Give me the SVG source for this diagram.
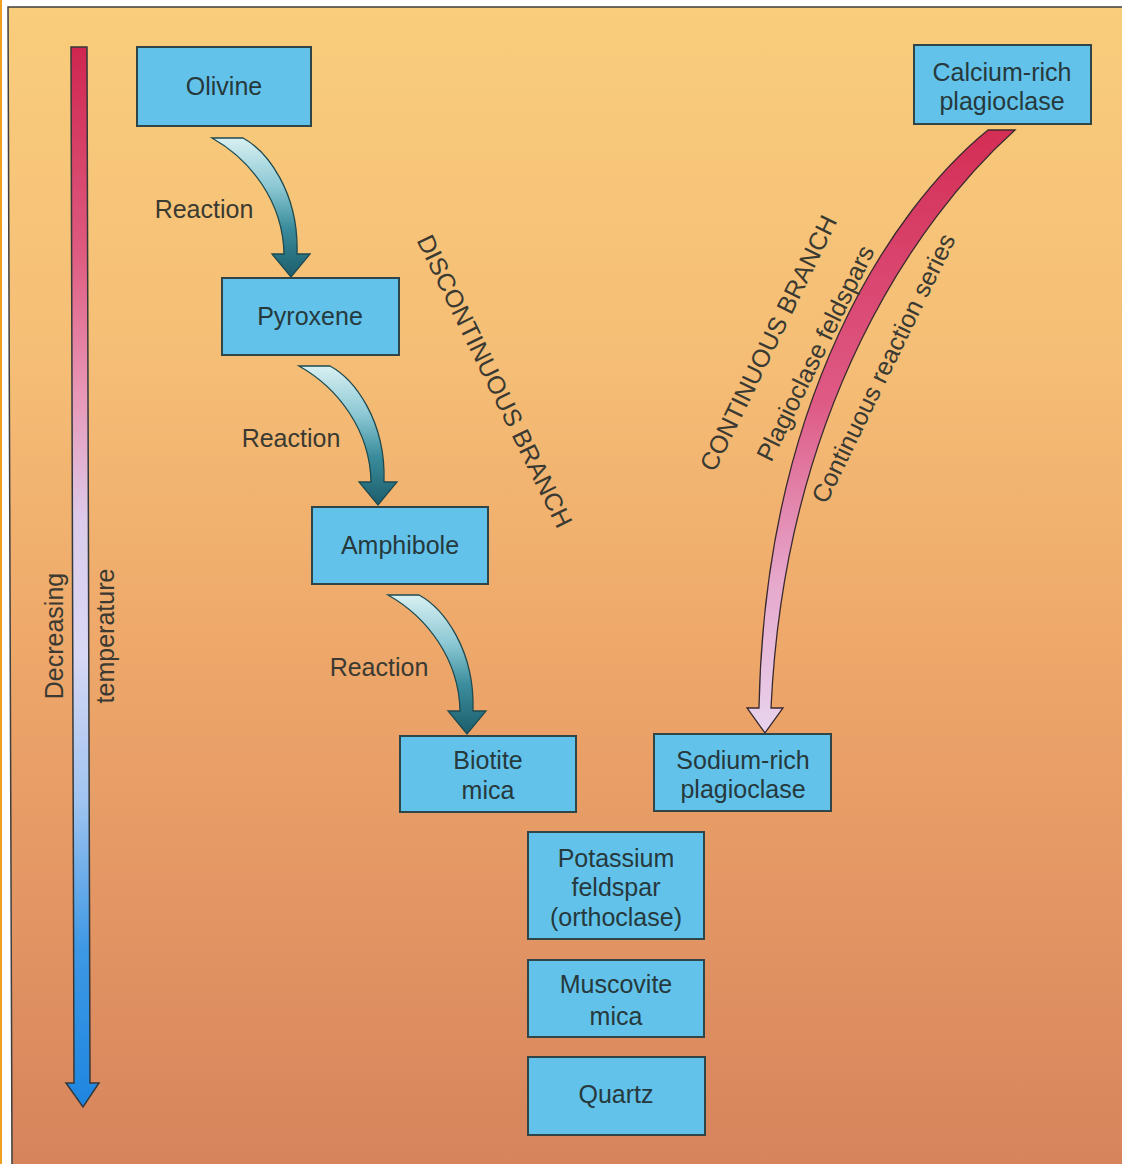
<svg xmlns="http://www.w3.org/2000/svg" width="1122" height="1164" viewBox="0 0 1122 1164">
  <defs>
    <linearGradient id="bg" x1="0" y1="0" x2="0" y2="1">
      <stop offset="0" stop-color="#F9CD7C"/>
      <stop offset="0.3" stop-color="#F5BE76"/>
      <stop offset="0.55" stop-color="#EEA86A"/>
      <stop offset="0.8" stop-color="#E29463"/>
      <stop offset="1" stop-color="#D6845C"/>
    </linearGradient>
    <linearGradient id="temp" gradientUnits="userSpaceOnUse" x1="0" y1="47" x2="0" y2="1107">
      <stop offset="0" stop-color="#CF2650"/>
      <stop offset="0.19" stop-color="#DE5A7E"/>
      <stop offset="0.33" stop-color="#E898B8"/>
      <stop offset="0.45" stop-color="#DCCCEC"/>
      <stop offset="0.57" stop-color="#D8D8F4"/>
      <stop offset="0.71" stop-color="#A0C4F0"/>
      <stop offset="0.85" stop-color="#3E98E4"/>
      <stop offset="1" stop-color="#1E86E0"/>
    </linearGradient>
    <linearGradient id="react" x1="0" y1="0" x2="0" y2="1">
      <stop offset="0" stop-color="#D8F0F2"/>
      <stop offset="0.35" stop-color="#8CC8D4"/>
      <stop offset="0.65" stop-color="#3A8C9C"/>
      <stop offset="1" stop-color="#1C5E6C"/>
    </linearGradient>
    <linearGradient id="cont" gradientUnits="userSpaceOnUse" x1="0" y1="130" x2="0" y2="733">
      <stop offset="0" stop-color="#D42E55"/>
      <stop offset="0.45" stop-color="#DE5A85"/>
      <stop offset="0.75" stop-color="#E6A8CC"/>
      <stop offset="1" stop-color="#E8D4EE"/>
    </linearGradient>
    <path id="rarrow" d="M-79,-139 L-48,-139 C-24,-126 8,-85 6,-23 L19,-23 L0,0 L-19,-23 L-7,-23 C-8,-75 -40,-117 -79,-139 Z"/>
    <style>
      .box { fill: #62C2EA; stroke: #2F4548; stroke-width: 2; }
      .lbl { font-family: "Liberation Sans", Arial, sans-serif; font-size: 25px; fill: #26393C; text-anchor: middle; }
      .note { font-family: "Liberation Sans", Arial, sans-serif; font-size: 25px; fill: #3A3A32; text-anchor: middle; }
      .ra { fill: url(#react); stroke: #1E4A50; stroke-width: 1.3; stroke-linejoin: miter; }
    </style>
  </defs>

  <rect x="0" y="0" width="1122" height="1164" fill="#FFFFFF"/>
  <rect x="0" y="0" width="2" height="1164" fill="#F0A020"/>
  <path d="M8,7 L1122,7 L1122,1164 L12,1164 Z" fill="url(#bg)"/>
  <path d="M12,1164 L8,7 L1122,7" fill="none" stroke="#3E3E3E" stroke-width="1.5"/>

  <g id="temperature-axis">
    <path d="M71,47 L87,47 L90,1083 L99,1083 L83,1107 L66,1083 L74,1083 Z" fill="url(#temp)" stroke="#34383A" stroke-width="1.5"/>
    <text class="note" transform="translate(63,636) rotate(-90)">Decreasing</text>
    <text class="note" transform="translate(114,636) rotate(-90)">temperature</text>
  </g>

  <g id="connectors">
    <use href="#rarrow" class="ra" transform="translate(291,277)"/>
    <use href="#rarrow" class="ra" transform="translate(378,505)"/>
    <use href="#rarrow" class="ra" transform="translate(467,734)"/>
    <path d="M988,130 L1015,130 C915,220 785,410 771,708 L783,708 L765,733 L747,708 L759,708 C765,400 890,210 988,130 Z" fill="url(#cont)" stroke="#3A2A30" stroke-width="1.3"/>
    <text class="note" x="204" y="218">Reaction</text>
    <text class="note" x="291" y="447">Reaction</text>
    <text class="note" x="379" y="676">Reaction</text>
  </g>

  <g id="branch-labels">
    <text class="note" transform="translate(495,381) rotate(64)" dy="9">DISCONTINUOUS BRANCH</text>
    <text class="note" transform="translate(768,343) rotate(-64)" dy="9">CONTINUOUS BRANCH</text>
    <text class="note" transform="translate(815,353) rotate(-64)" dy="9">Plagioclase feldspars</text>
    <text class="note" transform="translate(883,368) rotate(-64)" dy="9">Continuous reaction series</text>
  </g>

  <g id="olivine">
    <rect class="box" x="137" y="47" width="174" height="79"/>
    <text class="lbl" x="224" y="95">Olivine</text>
  </g>
  <g id="calcium-rich-plagioclase">
    <rect class="box" x="914" y="45" width="177" height="79"/>
    <text class="lbl" x="1002" y="81">Calcium-rich</text>
    <text class="lbl" x="1002" y="110">plagioclase</text>
  </g>
  <g id="pyroxene">
    <rect class="box" x="222" y="278" width="177" height="77"/>
    <text class="lbl" x="310" y="325">Pyroxene</text>
  </g>
  <g id="amphibole">
    <rect class="box" x="312" y="507" width="176" height="77"/>
    <text class="lbl" x="400" y="554">Amphibole</text>
  </g>
  <g id="biotite-mica">
    <rect class="box" x="400" y="736" width="176" height="76"/>
    <text class="lbl" x="488" y="769">Biotite</text>
    <text class="lbl" x="488" y="799">mica</text>
  </g>
  <g id="sodium-rich-plagioclase">
    <rect class="box" x="654" y="734" width="177" height="77"/>
    <text class="lbl" x="743" y="769">Sodium-rich</text>
    <text class="lbl" x="743" y="798">plagioclase</text>
  </g>
  <g id="potassium-feldspar">
    <rect class="box" x="528" y="832" width="176" height="107"/>
    <text class="lbl" x="616" y="867">Potassium</text>
    <text class="lbl" x="616" y="896">feldspar</text>
    <text class="lbl" x="616" y="926">(orthoclase)</text>
  </g>
  <g id="muscovite-mica">
    <rect class="box" x="528" y="960" width="176" height="77"/>
    <text class="lbl" x="616" y="993">Muscovite</text>
    <text class="lbl" x="616" y="1025">mica</text>
  </g>
  <g id="quartz">
    <rect class="box" x="528" y="1057" width="177" height="78"/>
    <text class="lbl" x="616" y="1103">Quartz</text>
  </g>
</svg>
